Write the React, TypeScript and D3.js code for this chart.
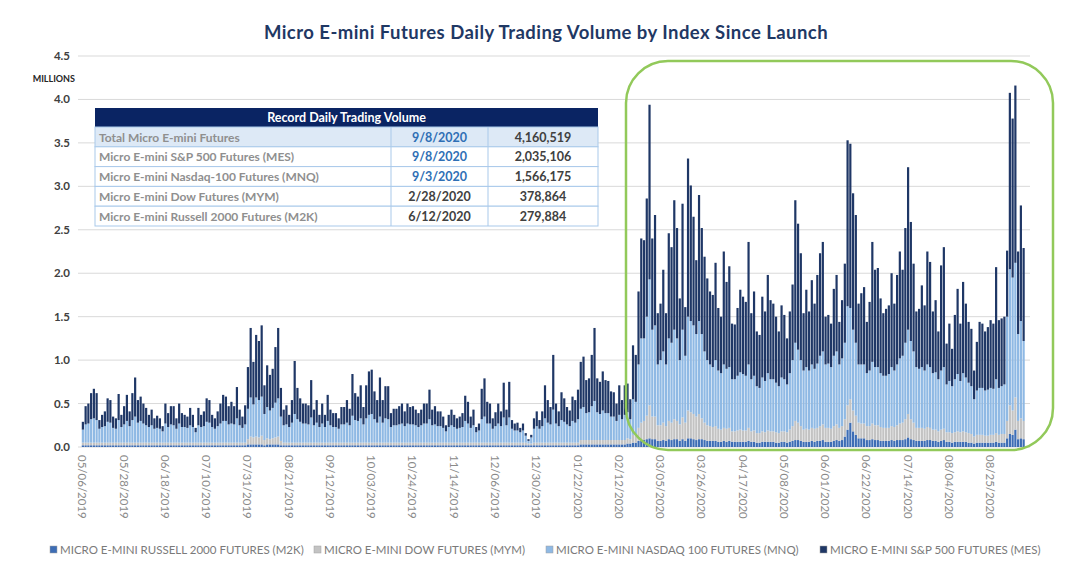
import React from "react";
import * as d3 from "d3";

// ---------------- DATA (millions of contracts, one value per trading day) ----------------
const TICK_LABELS = [
  "05/06/2019", "05/28/2019", "06/18/2019", "07/10/2019", "07/31/2019", "08/21/2019",
  "09/12/2019", "10/03/2019", "10/24/2019", "11/14/2019", "12/06/2019", "12/30/2019",
  "01/22/2020", "02/12/2020", "03/05/2020", "03/26/2020", "04/17/2020", "05/08/2020",
  "06/01/2020", "06/22/2020", "07/14/2020", "08/04/2020", "08/25/2020",
];
const TICK_EVERY = 15;

const M2K = [
  .02,.02,.02,.02,.02,.02,.02,.02,.02,.02, .02,.02,.02,.02,.02,.02,.02,.02,.02,.02,
  .02,.02,.02,.02,.02,.02,.02,.02,.02,.02, .02,.02,.02,.02,.02,.02,.02,.02,.02,.02,
  .02,.02,.02,.02,.02,.02,.02,.02,.02,.02, .02,.02,.02,.02,.02,.02,.02,.02,.02,.02,
  .03,.03,.03,.03,.03,.03,.02,.03,.03,.03, .03,.03,.02,.02,.02,.02,.02,.02,.02,.02,
  .02,.02,.02,.02,.02,.02,.02,.02,.02,.02, .02,.02,.02,.02,.02,.02,.02,.02,.02,.02,
  .02,.02,.02,.02,.02,.02,.02,.02,.02,.02, .02,.02,.02,.02,.02,.02,.02,.02,.02,.02,
  .02,.02,.02,.02,.02,.02,.02,.02,.02,.02, .02,.02,.02,.02,.02,.02,.02,.02,.02,.02,
  .02,.02,.02,.02,.02,.02,.02,.02,.02,.02, .02,.02,.02,.02,.02,.02,.02,.02,.02,.02,
  .02,.02,.02,.02,.02,.02,.02,.02,.02,.02, .02,.02,.02,.02,.02,.02,.02,.02,.02,.02,
  .02,.03,.03,.03,.03,.03,.03,.03,.03,.03, .03,.03,.03,.03,.03,.03,.03,.03,.04,.04,
  .05,.05,.07,.08,.08,.09,.10,.09,.09,.07, .07,.08,.07,.09,.08,.09,.09,.07,.09,.07,
  .10,.10,.09,.08,.09,.09,.08,.07,.07,.07, .07,.06,.06,.07,.06,.07,.06,.06,.06,.06,
  .06,.06,.07,.06,.06,.05,.05,.06,.06,.06, .06,.06,.05,.05,.06,.06,.05,.06,.07,.08,
  .08,.07,.06,.06,.06,.07,.06,.07,.07,.08, .06,.06,.06,.07,.08,.07,.08,.12,.20,.28,
  .18,.14,.10,.10,.10,.08,.08,.09,.08,.08, .07,.07,.07,.07,.08,.07,.08,.08,.08,.09,
  .11,.09,.08,.07,.07,.07,.07,.08,.08,.07, .07,.06,.07,.08,.06,.06,.05,.06,.06,.06,
  .06,.06,.05,.05,.04,.05,.05,.05,.05,.05, .05,.05,.06,.05,.05,.05,.10,.15,.14,.20,
  .09,.10,.09,
];

const MYM = [
  .03,.03,.03,.03,.03,.03,.03,.03,.03,.03, .03,.03,.03,.03,.03,.03,.03,.03,.03,.03,
  .03,.03,.03,.03,.03,.03,.03,.03,.03,.03, .03,.03,.03,.03,.03,.03,.03,.03,.03,.03,
  .03,.03,.03,.03,.03,.03,.03,.03,.03,.03, .03,.03,.03,.03,.03,.03,.03,.03,.03,.03,
  .06,.09,.08,.09,.08,.10,.06,.07,.06,.07, .08,.09,.05,.03,.03,.03,.03,.03,.03,.03,
  .03,.03,.03,.03,.03,.03,.03,.03,.03,.03, .03,.03,.03,.03,.03,.03,.03,.03,.03,.03,
  .03,.03,.03,.03,.03,.03,.03,.03,.03,.03, .03,.03,.03,.03,.03,.03,.03,.03,.03,.03,
  .03,.03,.03,.03,.03,.03,.03,.03,.03,.03, .03,.03,.03,.03,.03,.03,.03,.03,.03,.03,
  .03,.03,.03,.03,.03,.03,.03,.03,.03,.03, .03,.03,.03,.03,.03,.03,.03,.03,.03,.03,
  .03,.03,.02,.02,.03,.03,.03,.03,.03,.03, .03,.03,.03,.03,.03,.03,.03,.03,.03,.03,
  .03,.05,.05,.05,.05,.05,.05,.05,.05,.05, .05,.05,.05,.05,.05,.05,.05,.05,.06,.05,
  .09,.08,.15,.20,.22,.27,.379,.26,.26,.18, .18,.20,.17,.21,.20,.23,.21,.19,.25,.21,
  .32,.30,.29,.27,.29,.24,.20,.18,.17,.16, .17,.15,.14,.15,.15,.15,.12,.12,.13,.14,
  .13,.13,.15,.12,.13,.11,.11,.12,.11,.13, .12,.12,.12,.11,.12,.12,.12,.14,.17,.22,
  .20,.17,.14,.15,.14,.15,.15,.15,.17,.18, .16,.16,.15,.17,.18,.15,.16,.20,.28,.27,
  .24,.22,.18,.17,.17,.16,.16,.18,.17,.17, .16,.15,.15,.15,.16,.16,.17,.19,.20,.23,
  .27,.23,.20,.15,.15,.15,.14,.15,.14,.13, .13,.12,.13,.13,.11,.11,.11,.11,.12,.11,
  .12,.11,.11,.10,.08,.09,.09,.09,.08,.08, .09,.09,.10,.09,.10,.10,.20,.33,.28,.37,
  .21,.23,.21,
];

const MNQ = [
  .15,.21,.22,.27,.28,.26,.16,.18,.19,.24, .23,.17,.16,.26,.18,.21,.25,.19,.26,.30,
  .23,.25,.22,.20,.18,.20,.16,.17,.16,.13, .22,.18,.21,.20,.16,.22,.18,.18,.17,.20,
  .18,.12,.20,.18,.19,.24,.23,.18,.16,.19, .22,.25,.25,.21,.22,.21,.28,.20,.17,.21,
  .35,.45,.38,.45,.43,.45,.30,.36,.33,.35, .40,.44,.28,.20,.21,.18,.23,.33,.27,.24,
  .22,.22,.21,.29,.20,.23,.18,.22,.18,.25, .20,.18,.18,.16,.21,.21,.23,.20,.31,.26,
  .25,.28,.21,.28,.32,.33,.27,.23,.30,.23, .28,.27,.18,.20,.20,.21,.22,.19,.22,.21,
  .21,.20,.18,.20,.22,.22,.27,.20,.21,.19, .19,.17,.13,.18,.20,.18,.16,.17,.18,.25,
  .22,.17,.20,.12,.14,.27,.30,.22,.22,.16, .19,.22,.19,.29,.20,.29,.16,.14,.14,.12,
  .14,.08,.03,.07,.16,.19,.16,.19,.28,.23, .21,.38,.22,.19,.26,.24,.21,.19,.25,.23,
  .27,.36,.38,.31,.32,.39,.45,.32,.30,.34, .31,.31,.27,.27,.22,.29,.24,.29,.30,.23,
  .41,.39,.73,.97,.95,1.14,1.45,1.00,1.05,.70, .75,.82,.71,.95,.92,1.03,.95,.74,1.01,.77,
  1.08,1.05,1.02,.95,1.07,.97,.82,.75,.71,.69, .76,.67,.65,.73,.69,.70,.60,.60,.63,.66,
  .65,.63,.73,.60,.63,.54,.52,.62,.59,.66, .60,.60,.57,.54,.62,.60,.55,.65,.76,.90,
  .84,.76,.68,.71,.68,.73,.69,.74,.81,.84, .73,.74,.71,.81,.84,.73,.78,.88,1.14,1.05,
  .93,.84,.67,.68,.68,.61,.64,.71,.67,.67, .62,.60,.60,.62,.68,.65,.70,.75,.77,.88,
  .97,.90,.82,.70,.68,.70,.67,.72,.70,.65, .66,.60,.68,.71,.55,.59,.54,.61,.66,.59,
  .67,.63,.58,.55,.43,.51,.54,.54,.52,.53, .54,.53,.62,.54,.55,.57,1.20,1.566,1.53,1.55,
  1.00,1.12,.92,
];

const MES = [
  .09,.21,.23,.30,.34,.31,.10,.14,.17,.27, .26,.13,.12,.30,.14,.21,.30,.17,.31,.45,
  .26,.28,.23,.20,.14,.18,.12,.14,.12,.06, .23,.16,.21,.22,.12,.23,.16,.14,.13,.20,
  .14,.05,.20,.14,.17,.27,.26,.14,.12,.17, .23,.30,.28,.21,.25,.21,.36,.18,.13,.22,
  .48,.80,.49,.72,.68,.82,.33,.48,.41,.45, .64,.81,.33,.18,.22,.14,.26,.61,.36,.27,
  .23,.23,.22,.43,.18,.26,.14,.23,.14,.30, .18,.16,.16,.12,.20,.20,.26,.19,.48,.31,
  .28,.38,.20,.38,.50,.51,.32,.26,.45,.26, .37,.38,.16,.19,.19,.21,.23,.17,.23,.20,
  .21,.18,.16,.18,.23,.23,.34,.18,.21,.17, .17,.13,.07,.14,.18,.14,.12,.13,.16,.29,
  .25,.13,.18,.06,.08,.35,.44,.25,.23,.12, .16,.23,.17,.40,.18,.41,.10,.08,.09,.05,
  .08,.03,.02,.03,.12,.17,.10,.17,.38,.26, .20,.63,.23,.17,.32,.27,.20,.18,.28,.26,
  .34,.54,.58,.38,.39,.59,.84,.39,.37,.45, .38,.37,.29,.28,.20,.34,.22,.34,.33,.23,
  .62,.54,.84,1.15,1.13,1.36,2.01,1.05,1.27,.59, .65,.94,.59,1.21,1.10,1.49,1.27,.71,1.45,.56,
  1.82,1.56,1.25,.85,1.45,1.22,1.09,.94,.84,.83, 1.12,.72,.65,1.30,1.00,1.16,.64,.63,.78,.95,
  .89,.85,1.41,.76,.97,.63,.61,.93,.80,1.13, .91,.87,.76,.63,.83,.74,.53,.71,.87,1.64,
  1.45,1.23,.66,.89,.68,.97,.75,1.02,1.18,1.26, .55,.56,.50,.77,.88,.49,.67,.91,1.91,1.89,
  1.57,1.47,.70,.82,.89,.59,.79,1.38,1.12,1.14, .86,.72,.77,.79,1.08,.77,1.03,1.23,.99,1.32,
  1.87,1.37,1.01,.64,.69,.94,.75,1.30,1.21,.71, .83,.55,1.21,1.38,.47,.66,.43,.74,.98,.66,
  1.05,.85,.70,.66,.33,.56,.76,.74,.68,.72, .78,.75,1.29,.78,.78,.78,.76,2.03,1.83,2.04,
  .95,1.33,1.07,
];

const Y_TICKS = [0, 0.5, 1, 1.5, 2, 2.5, 3, 3.5, 4, 4.5];

const SERIES_KEYS = ["m2k", "mym", "mnq", "mes"];
const SERIES_LABELS = [
  "MICRO E-MINI RUSSELL 2000 FUTURES (M2K)",
  "MICRO E-MINI DOW FUTURES (MYM)",
  "MICRO E-MINI NASDAQ 100 FUTURES (MNQ)",
  "MICRO E-MINI S&P 500 FUTURES (MES)",
];
const SERIES_COLORS = ["#3d6db5", "#c3c3c3", "#8fb9e4", "#1f3766"];

const TABLE_TITLE = "Record Daily Trading Volume";
const TABLE_NAMES = [
  "Total Micro E-mini Futures",
  "Micro E-mini S&P 500 Futures (MES)",
  "Micro E-mini Nasdaq-100 Futures (MNQ)",
  "Micro E-mini Dow Futures (MYM)",
  "Micro E-mini Russell 2000 Futures (M2K)",
];
const TABLE_DATES = ["9/8/2020", "9/8/2020", "9/3/2020", "2/28/2020", "6/12/2020"];
const TABLE_VALUES = ["4,160,519", "2,035,106", "1,566,175", "378,864", "279,884"];

// ---------------- LAYOUT ----------------
const W = 1080, H = 587;
const FONT = "Lato, 'Open Sans', 'Liberation Sans', sans-serif";
const LEGEND_X = [50, 314, 546, 820];

export default function App() {
  const N = MES.length;
  const rows = d3.range(N).map((i) => ({ i, m2k: M2K[i], mym: MYM[i], mnq: MNQ[i], mes: MES[i] }));
  const stacked = d3.stack<any>().keys(SERIES_KEYS)(rows);

  const x = d3.scaleBand<number>().domain(d3.range(N)).range([81.5, 1025]).paddingInner(0.2).paddingOuter(0.1);
  const y = d3.scaleLinear().domain([0, 4.5]).range([447, 56]);

  const tbl = { x0: 95, x1: 391, x2: 488, x3: 598, top: 108, head: 19, rowH: 19.8 };

  return (
    <svg width={W} height={H} style={{ position: "absolute", left: 0, top: 0, background: "#fff" }} fontFamily={FONT}>
      <rect x={0} y={0} width={W} height={H} fill="#fff" />
      {/* title */}
      <text x={546} y={39} textAnchor="middle" fontSize={18.5} letterSpacing={0.45} fontWeight={700} fill="#1f3864">
        Micro E-mini Futures Daily Trading Volume by Index Since Launch
      </text>

      {/* gridlines */}
      {Y_TICKS.map((v) => (
        <line key={v} x1={78} x2={1030} y1={y(v)} y2={y(v)} stroke="#d9d9d9" strokeWidth={1} />
      ))}
      {/* y labels */}
      {Y_TICKS.map((v) => (
        <text key={"l" + v} x={70} y={y(v) + 4} textAnchor="end" fontSize={11.5} fontWeight={700} fill="#404040">
          {d3.format(".1f")(v)}
        </text>
      ))}
      <text x={75} y={82} textAnchor="end" fontSize={9} fontWeight={700} fill="#262626">MILLIONS</text>

      {/* bars */}
      {stacked.map((s, si) => (
        <g key={s.key} fill={SERIES_COLORS[si]}>
          {s.map((d, i) => (
            <rect key={i} x={x(i)} width={x.bandwidth()} y={y(d[1])} height={Math.max(0, y(d[0]) - y(d[1]))} />
          ))}
        </g>
      ))}

      {/* x tick labels */}
      {TICK_LABELS.map((t, k) => {
        const cx = (x(k * TICK_EVERY) as number) + x.bandwidth() / 2;
        const ty = 455;
        return (
          <text key={t} x={cx} y={ty} transform={`rotate(90 ${cx} ${ty})`} fontSize={11.5} fill="#8a8a8a" dominantBaseline="central">
            {t}
          </text>
        );
      })}

      {/* highlight box */}
      <rect x={626} y={61} width={427} height={389} rx={42} ry={42} fill="none" stroke="#92c95a" strokeWidth={2.5} />

      {/* record table */}
      <g>
        <rect x={tbl.x0} y={tbl.top} width={tbl.x3 - tbl.x0} height={tbl.head} fill="#0a2463" />
        <text x={(tbl.x0 + tbl.x3) / 2} y={tbl.top + 14} textAnchor="middle" fontSize={12.5} fontWeight={700} fill="#fff">
          {TABLE_TITLE}
        </text>
        {TABLE_NAMES.map((nm, r) => {
          const ry = tbl.top + tbl.head + r * tbl.rowH;
          const blue = r < 3;
          return (
            <g key={nm}>
              <rect x={tbl.x0} y={ry} width={tbl.x3 - tbl.x0} height={tbl.rowH} fill={r === 0 ? "#dde9f6" : "#fff"} stroke="#a9c9ea" strokeWidth={1} />
              <line x1={tbl.x1} x2={tbl.x1} y1={ry} y2={ry + tbl.rowH} stroke="#a9c9ea" />
              <line x1={tbl.x2} x2={tbl.x2} y1={ry} y2={ry + tbl.rowH} stroke="#a9c9ea" />
              <text x={tbl.x0 + 4} y={ry + 14.5} fontSize={12} fontWeight={700} fill="#8f8f8f">{nm}</text>
              <text x={(tbl.x1 + tbl.x2) / 2} y={ry + 14.5} textAnchor="middle" fontSize={12.5} fontWeight={700} fill={blue ? "#2f6fb5" : "#404040"}>
                {TABLE_DATES[r]}
              </text>
              <text x={(tbl.x2 + tbl.x3) / 2} y={ry + 14.5} textAnchor="middle" fontSize={12.5} fontWeight={700} fill="#404040">
                {TABLE_VALUES[r]}
              </text>
            </g>
          );
        })}
      </g>

      {/* legend */}
      {SERIES_LABELS.map((lab, i) => (
        <g key={lab}>
          <rect x={LEGEND_X[i]} y={546} width={7} height={7} fill={SERIES_COLORS[i]} stroke="#a0a0a0" strokeWidth={0.5} />
          <text x={LEGEND_X[i] + 10} y={553.5} fontSize={11.5} fill="#7a7a7a">{lab}</text>
        </g>
      ))}
    </svg>
  );
}
